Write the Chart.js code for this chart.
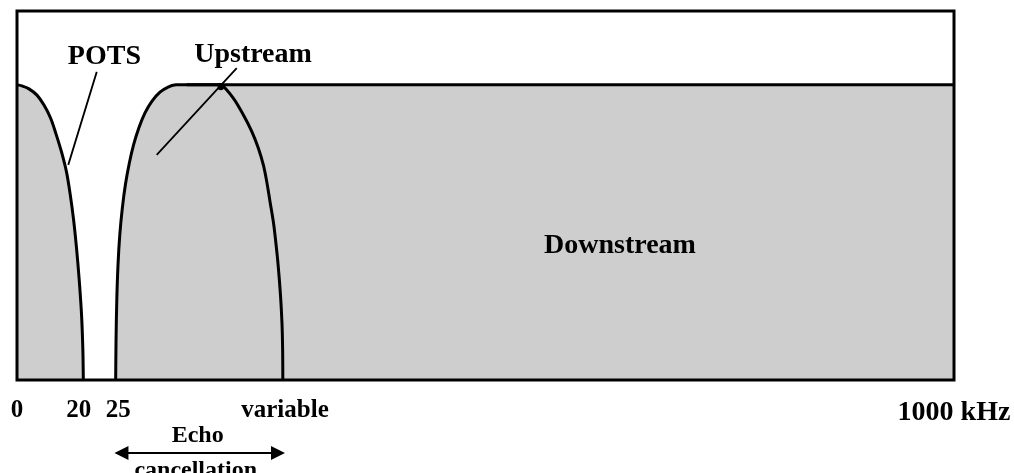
<!DOCTYPE html>
<html>
<head>
<meta charset="utf-8">
<script src="https://cdn.jsdelivr.net/npm/chart.js@4/dist/chart.umd.min.js"></script>
<style>
  html, body { margin: 0; padding: 0; background: #ffffff; }
  #wrap { position: relative; width: 1014px; height: 473px; }
</style>
</head>
<body>
<div id="wrap"><canvas id="c" width="1014" height="473"></canvas></div>
<script>
// ---- data (schematic frequency position 0..1000, level 0..100) ----
const potsX = [0, 5.3, 12.8, 21.3, 28.8, 35.8, 41.6, 47.5, 52.8, 56.9, 60.4, 63.5, 66.4, 68.9, 70.3, 70.8];
const potsY = [80, 79.7, 78.9, 77.2, 74.5, 71.0, 66.7, 61.8, 56.4, 50.1, 43.4, 35.8, 27.1, 17.6, 8.1, 0];

const upX = [105.3, 105.7, 106.5, 107.8, 109.7, 112.4, 115.8, 119.9, 124.4, 130.0, 136.6, 144.1, 152.6, 161.2, 169.7, 180.4, 214.0, 218.5,
             230.8, 241.5, 250.5, 257.5, 262.9, 266.5, 270.0, 273.5, 275.3, 278.5, 281.2, 282.8, 283.5, 283.7];
const upY = [0, 10.8, 21.7, 31.2, 39.3, 46.6, 53.1, 58.8, 63.7, 68.3, 72.4, 75.6, 78.0, 79.4, 80, 80, 80, 80,
             76.4, 71.9, 67.4, 62.9, 58.3, 53.8, 48.4, 43.0, 39.4, 31.7, 23.0, 15.4, 8.1, 0];

const downX = [181.1, 1000];
const downY = [80, 80];

const tickValues = [0, 66, 108, 286, 1000];
const tickLabels = ['0', '20', '25', 'variable', '1000 kHz'];

const echoRange = [104, 286];
const echoLabels = ['Echo', 'cancellation'];

const bandLabels = ['POTS', 'Upstream', 'Downstream'];

// ---- helpers ----
const pts = (xs, ys) => xs.map((x, i) => ({ x: x, y: ys[i] }));
const GRAY = '#cecece';
const SERIF = '"Liberation Serif", "Times New Roman", serif';

const annotate = {
  id: 'annotate',
  afterDraw(chart) {
    const ctx = chart.ctx;
    const xs = chart.scales.x, ys = chart.scales.y;
    const px = v => xs.getPixelForValue(v);
    const py = v => ys.getPixelForValue(v);
    const a = chart.chartArea;
    ctx.save();
    // frame
    ctx.strokeStyle = '#000';
    ctx.lineWidth = 3;
    ctx.strokeRect(a.left, a.top, a.right - a.left, a.bottom - a.top);

    // leader lines
    ctx.lineWidth = 1.8;
    ctx.beginPath();
    ctx.moveTo(px(85.1), py(83.5));
    ctx.lineTo(px(54.7), py(58.3));
    ctx.moveTo(px(234.5), py(84.5));
    ctx.lineTo(px(149.1), py(61.0));
    ctx.stroke();
    ctx.fillStyle = '#000';
    ctx.beginPath();
    ctx.arc(px(217.5), py(79.4), 3.2, 0, Math.PI * 2);
    ctx.fill();

    // band labels
    ctx.font = 'bold 28px ' + SERIF;
    ctx.textAlign = 'center';
    ctx.textBaseline = 'alphabetic';
    ctx.fillText(bandLabels[0], px(93.3), py(85.6));
    ctx.fillText(bandLabels[1], px(251.9), py(86.2));
    ctx.fillText(bandLabels[2], px(643.5), py(34.4));

    // tick labels
    tickValues.forEach((v, i) => {
      const last = i === tickValues.length - 1;
      ctx.font = (last ? 'bold 28px ' : 'bold 25px ') + SERIF;
      ctx.fillText(tickLabels[i], px(v), a.bottom + (last ? 40 : 37));
    });

    // echo cancellation arrow
    const x0 = px(echoRange[0]), x1 = px(echoRange[1]);
    const ay = a.bottom + 73;
    ctx.font = 'bold 24px ' + SERIF;
    ctx.fillText(echoLabels[0], (x0 + x1) / 2 - 2, a.bottom + 62);
    ctx.fillText(echoLabels[1], (x0 + x1) / 2 - 4, a.bottom + 97);
    ctx.lineWidth = 2;
    ctx.beginPath();
    ctx.moveTo(x0 + 8, ay);
    ctx.lineTo(x1 - 8, ay);
    ctx.stroke();
    ctx.beginPath();
    ctx.moveTo(x0, ay); ctx.lineTo(x0 + 14, ay - 7); ctx.lineTo(x0 + 14, ay + 7); ctx.closePath();
    ctx.moveTo(x1, ay); ctx.lineTo(x1 - 14, ay - 7); ctx.lineTo(x1 - 14, ay + 7); ctx.closePath();
    ctx.fill();
    ctx.restore();
  }
};

const lineStyle = {
  borderColor: '#000',
  backgroundColor: GRAY,
  borderWidth: 3,
  pointRadius: 0,
  fill: 'origin',
  tension: 0.35,
  borderJoinStyle: 'round',
  clip: false
};

new Chart(document.getElementById('c'), {
  type: 'line',
  data: {
    datasets: [
      Object.assign({ label: bandLabels[0], data: pts(potsX, potsY) }, lineStyle),
      Object.assign({ label: bandLabels[1], data: pts(upX, upY) }, lineStyle),
      Object.assign({ label: bandLabels[2], data: pts(downX, downY) }, lineStyle, { tension: 0 })
    ]
  },
  options: {
    responsive: false,
    animation: false,
    events: [],
    layout: { padding: { left: 17, right: 60, top: 11, bottom: 93 } },
    scales: {
      x: { type: 'linear', min: 0, max: 1000, display: false },
      y: { type: 'linear', min: 0, max: 100, display: false }
    },
    plugins: {
      legend: { display: false },
      tooltip: { enabled: false },
      filler: { drawTime: 'beforeDatasetsDraw' }
    }
  },
  plugins: [annotate]
});
</script>
</body>
</html>
